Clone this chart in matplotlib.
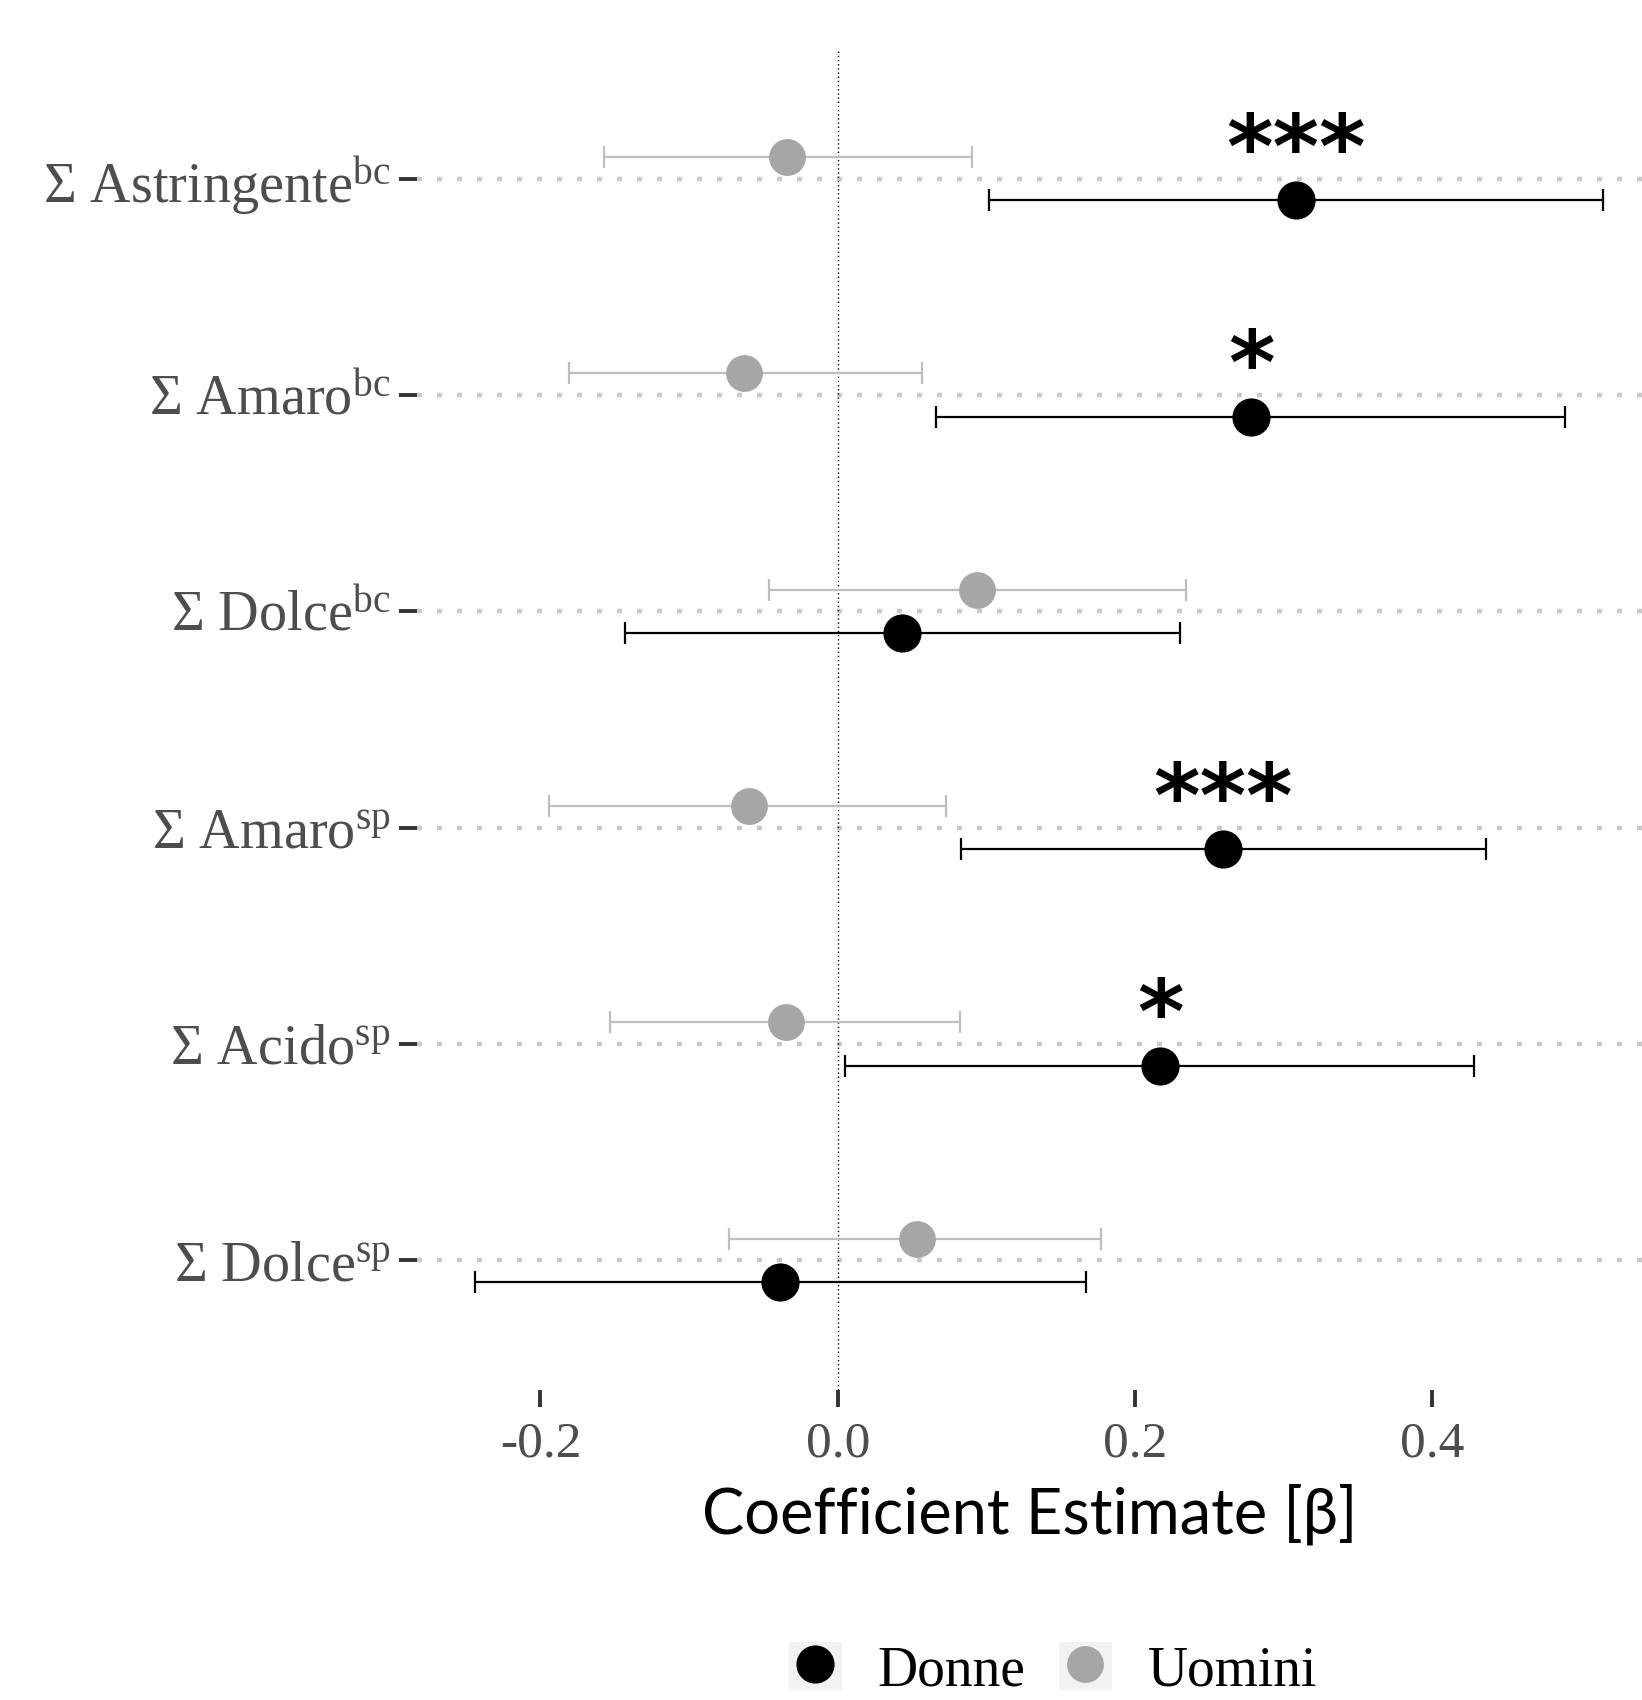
import matplotlib
matplotlib.use("Agg")
import matplotlib.pyplot as plt
from matplotlib.patches import Rectangle
from matplotlib.lines import Line2D

plt.rcParams['mathtext.fontset'] = 'custom'
plt.rcParams['mathtext.rm'] = 'Liberation Serif'
plt.rcParams['mathtext.it'] = 'Liberation Serif:italic'

# ---- data (top to bottom) ----
labels = [r"Σ Astringente$^{\mathrm{bc}}$", r"Σ Amaro$^{\mathrm{bc}}$", r"Σ Dolce$^{\mathrm{bc}}$",
          r"Σ Amaro$^{\mathrm{sp}}$", r"Σ Acido$^{\mathrm{sp}}$", r"Σ Dolce$^{\mathrm{sp}}$"]
donne_est = [0.308, 0.278, 0.043, 0.259, 0.217, -0.039]
donne_lo = [0.102, 0.066, -0.143, 0.083, 0.005, -0.244]
donne_hi = [0.515, 0.489, 0.230, 0.436, 0.428, 0.167]
uomini_est = [-0.034, -0.063, 0.094, -0.060, -0.035, 0.053]
uomini_lo = [-0.157, -0.181, -0.046, -0.194, -0.153, -0.073]
uomini_hi = [0.090, 0.057, 0.234, 0.073, 0.082, 0.177]
signif = ["***", "*", "", "***", "*", ""]
xticks = [-0.2, 0.0, 0.2, 0.4]
xticklabels = ["-0.2", "0.0", "0.2", "0.4"]

n = len(labels)
ypos = [n - i for i in range(n)]

fig = plt.figure(figsize=(16.42, 17), dpi=100)
ax = fig.add_axes([417/1642, 1 - 1390/1700, 1 - 417/1642, (1390 - 49)/1700])

ax.set_xlim(-0.283, 0.541)
ax.set_ylim(0.4, 6.6)

for sp in ax.spines.values():
    sp.set_visible(False)

# horizontal dotted grid lines
for y in ypos:
    ax.axhline(y, color='#C8C8C8', lw=3.2, linestyle=(0, (1.1, 3.4)), zorder=1)

ax.axvline(0, color='black', lw=1.0, linestyle=(0, (1, 2)), zorder=2)

dodge = 0.1
yd = [y - dodge for y in ypos]
yu = [y + dodge for y in ypos]

ax.errorbar(uomini_est, yu,
            xerr=[[e - l for e, l in zip(uomini_est, uomini_lo)], [h - e for e, h in zip(uomini_est, uomini_hi)]],
            fmt='none', ecolor='#BEBEBE', elinewidth=1.6, capsize=8, capthick=1.6, zorder=3)
ax.plot(uomini_est, yu, 'o', color='#A6A6A6', ms=26.5, mec='none', zorder=4)

ax.errorbar(donne_est, yd,
            xerr=[[e - l for e, l in zip(donne_est, donne_lo)], [h - e for e, h in zip(donne_est, donne_hi)]],
            fmt='none', ecolor='black', elinewidth=1.6, capsize=8, capthick=1.6, zorder=3)
ax.plot(donne_est, yd, 'o', color='black', ms=27.5, mec='none', zorder=4)

for x, y, s in zip(donne_est, ypos, signif):
    if s:
        ax.text(x, y + 0.005, s, ha='center', va='baseline', fontsize=64,
                fontweight='bold', family='DejaVu Sans', color='black', zorder=5)

ax.set_yticks(ypos)
ax.set_yticklabels(labels, fontsize=40.5, color='#4D4D4D', family='Liberation Serif')
ax.tick_params(axis='y', length=13, width=2.8, color='#333333', pad=6)

ax.set_xticks(xticks)
ax.set_xticklabels(xticklabels, fontsize=37, color='#4D4D4D', family='Liberation Serif')
ax.tick_params(axis='x', length=12, width=2.8, color='#333333', pad=10)

ax.set_xlabel("Coefficient Estimate [β]", fontsize=45.5, family='Lato', color='black', labelpad=12)

h1 = (Rectangle((0, 0), 1, 1, facecolor='#F2F2F2', edgecolor='none'),
      Line2D([], [], marker='o', color='black', ms=27.5, ls='none', mec='none'))
h2 = (Rectangle((0, 0), 1, 1, facecolor='#F2F2F2', edgecolor='none'),
      Line2D([], [], marker='o', color='#A6A6A6', ms=26.5, ls='none', mec='none'))
leg = fig.legend([h1, h2], ["Donne", "Uomini"], loc='upper left',
                 bbox_to_anchor=(789/1642, 1 - 1642/1700), ncol=2, frameon=False,
                 prop={'family': 'Liberation Serif', 'size': 40},
                 handlelength=0.95, handleheight=0.95, handletextpad=0.65,
                 columnspacing=0.6, borderpad=0, borderaxespad=0)

fig.savefig("out.png", dpi=100)
